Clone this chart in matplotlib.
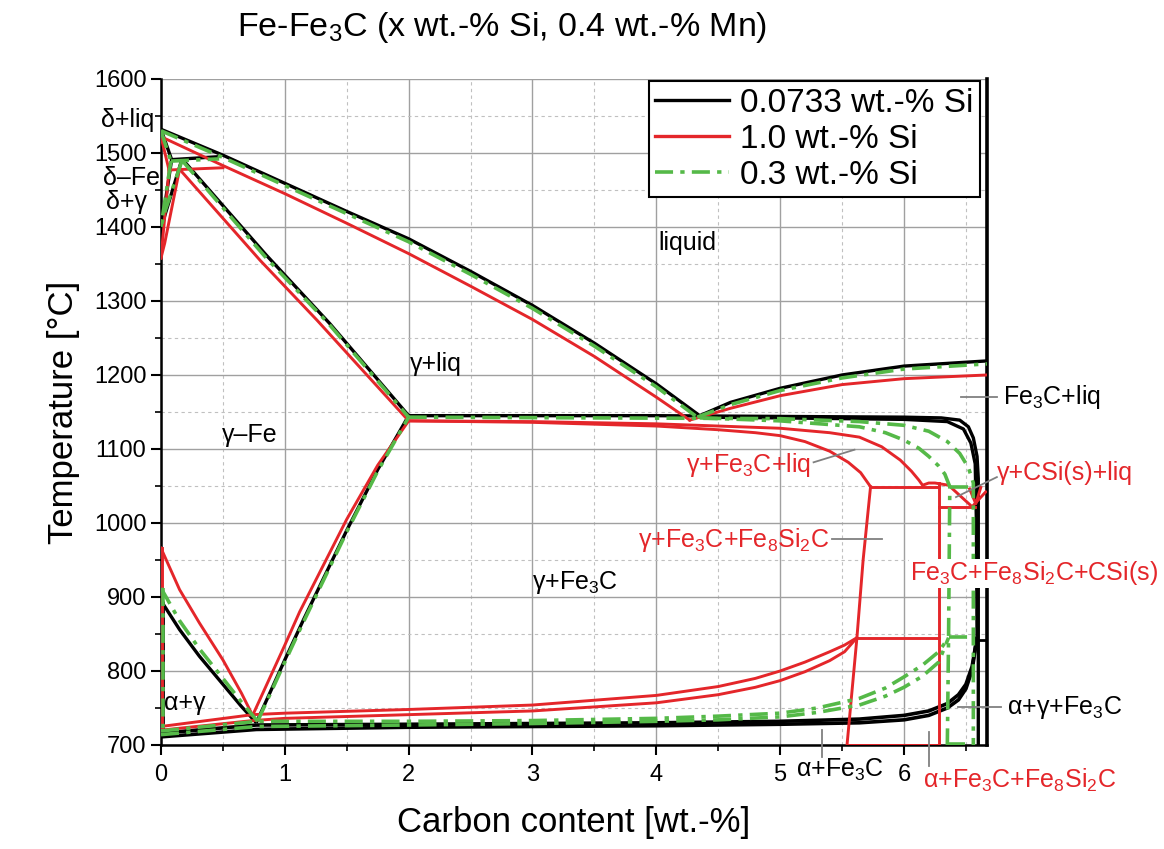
import numpy as np
import matplotlib.pyplot as plt
from matplotlib.ticker import MultipleLocator

plt.rcParams['font.family'] = ['Liberation Sans', 'DejaVu Sans']
plt.rcParams['mathtext.fontset'] = 'custom'
plt.rcParams['mathtext.rm'] = 'Liberation Sans'

RED = '#e4262a'
GREEN = '#55b948'
GRN_LS = (0, (5, 2, 1.2, 2))

# ---- data (x = wt.-% C, T = deg C) ----
# liquidus, Fe rich side
liq_x_k = [0, 0.5, 1.0, 1.5, 2.0, 2.5, 3.0, 3.5, 4.0, 4.35]
liq_t_k = [1532, 1497, 1459, 1421, 1384, 1340, 1294, 1243, 1188, 1145]
liq_x_g = [0, 0.5, 1.0, 1.5, 2.0, 2.5, 3.0, 3.5, 4.0, 4.33]
liq_t_g = [1530, 1494, 1456, 1418, 1380, 1336, 1290, 1239, 1184, 1143]
liq_x_r = [0, 0.5, 1.0, 1.5, 2.0, 2.5, 3.0, 3.5, 4.0, 4.27]
liq_t_r = [1522, 1483, 1445, 1405, 1364, 1320, 1275, 1225, 1170, 1139]

# liquidus, Fe3C side
hyp_x_k = [4.35, 4.6, 5.0, 5.5, 6.0, 6.67]
hyp_t_k = [1145, 1163, 1182, 1200, 1212, 1219]
hyp_x_g = [4.33, 4.6, 5.0, 5.5, 6.0, 6.67]
hyp_t_g = [1143, 1160, 1179, 1196, 1208, 1215]
hyp_x_r = [4.27, 4.6, 5.0, 5.5, 6.0, 6.67]
hyp_t_r = [1139, 1155, 1172, 1187, 1195, 1200]

# delta corner: [liquidus top, delta solidus end, peritectic end, gamma solidus start, delta+gamma bottom]
dl_k = [(0, 1532), (0.086, 1491), (0.47, 1495), (0.17, 1492), (0, 1395)]
dl_g = [(0, 1530), (0.08, 1489), (0.47, 1492), (0.17, 1490), (0, 1400)]
dl_r = [(0, 1522), (0.065, 1477), (0.50, 1480), (0.15, 1478), (0, 1358)]

# gamma solidus
sol_x_k = [0.17, 0.85, 1.36, 2.0]
sol_t_k = [1492, 1362, 1270, 1145]
sol_x_g = [0.17, 0.84, 1.35, 2.0]
sol_t_g = [1490, 1360, 1270, 1143]
sol_x_r = [0.15, 0.80, 1.26, 2.0]
sol_t_r = [1478, 1355, 1274, 1138]

# A3
a3_x_k = [0, 0.15, 0.31, 0.5, 0.65, 0.77]
a3_t_k = [895, 856, 820, 782, 752, 730]
a3_x_g = [0, 0.15, 0.31, 0.5, 0.65, 0.78]
a3_t_g = [912, 868, 830, 790, 758, 732]
a3_x_r = [0, 0.15, 0.31, 0.5, 0.65, 0.74]
a3_t_r = [966, 910, 865, 815, 770, 740]

# Acm
acm_x_k = [0.77, 1.0, 1.15, 1.5, 1.75, 2.0]
acm_t_k = [730, 815, 869, 990, 1072, 1145]
acm_x_g = [0.78, 1.0, 1.15, 1.5, 1.75, 2.0]
acm_t_g = [732, 812, 866, 988, 1070, 1143]
acm_x_r = [0.74, 1.0, 1.12, 1.5, 1.75, 2.0]
acm_t_r = [740, 835, 880, 1005, 1078, 1138]

# lower three-phase band (alpha+gamma+Fe3C)
low_x_k = [0, 0.77, 2, 3, 4, 5, 5.64, 6.0, 6.2, 6.35, 6.44, 6.5, 6.55, 6.59]
low_t_k1 = [716, 727, 728, 729, 730, 732, 735, 740, 746, 756, 768, 782, 806, 846]
low_t_k2 = [711, 721, 724, 725, 726, 728, 730, 734, 740, 750, 761, 776, 801, 846]
low_x_g = [0, 0.78, 2, 3, 4, 4.5, 5, 5.3, 5.64, 5.85, 6.0, 6.15, 6.28, 6.36]
low_t_g1 = [719, 732, 732, 733, 736, 739, 743, 750, 763, 777, 792, 808, 826, 845]
low_t_g2 = [714, 725, 727, 729, 732, 734, 738, 744, 754, 766, 778, 793, 812, 845]
low_x_r = [0, 0.74, 1, 2, 3, 4, 4.5, 4.8, 5.0, 5.2, 5.4, 5.52, 5.62]
low_t_r1 = [725, 741, 743, 748, 754, 767, 779, 790, 800, 812, 826, 835, 845]
low_t_r2 = [720, 733, 736, 741, 746, 757, 768, 778, 787, 799, 814, 826, 845]

# upper three-phase band (gamma+Fe3C+liq)
eut_x_k1 = [2.0, 3, 4, 5, 6, 6.3, 6.45, 6.52, 6.56, 6.59, 6.6, 6.6]
eut_t_k1 = [1145, 1145, 1145, 1144, 1143, 1142, 1139, 1130, 1115, 1090, 1060, 700]
eut_x_k2 = [4.35, 5, 6, 6.35, 6.48, 6.54, 6.575, 6.585, 6.59]
eut_t_k2 = [1143, 1142, 1140, 1137, 1127, 1108, 1080, 1000, 846]
eut_x_g1 = [2.0, 5.0, 5.64, 6.0, 6.2, 6.35, 6.45, 6.52, 6.56, 6.56]
eut_t_g1 = [1143, 1141, 1137, 1132, 1124, 1110, 1094, 1075, 1054, 700]
eut_x_g2 = [4.35, 5.0, 5.64, 5.85, 6.0, 6.12, 6.2, 6.28, 6.33, 6.37, 6.36, 6.35]
eut_t_g2 = [1142, 1138, 1130, 1122, 1112, 1101, 1090, 1077, 1066, 1049, 846, 700]
eut_x_r1 = [2.0, 3, 4, 4.5, 4.8, 5, 5.2, 5.4, 5.55, 5.65, 5.73]
eut_t_r1 = [1138, 1136, 1131, 1126, 1122, 1118, 1110, 1097, 1082, 1068, 1049]
eut_x_r2 = [2.0, 3, 4, 5, 5.4, 5.64, 5.82, 5.97, 6.06, 6.12, 6.15, 6.2, 6.25, 6.36, 6.55, 6.66]
eut_t_r2 = [1138, 1137, 1134, 1128, 1122, 1116, 1103, 1085, 1070, 1058, 1051, 1054, 1054, 1051, 1022, 1042]

# Fe8Si2C fields (1.0 % Si)
fesi_x_slant = [5.73, 5.67, 5.62, 5.54]
fesi_t_slant = [1049, 950, 845, 700]
fesi_x_right = 6.28
fesi_t_iso = [1049, 845, 700]
csi_t_iso = 1022

legend_labels = ['0.0733 wt.-% Si', '1.0 wt.-% Si', '0.3 wt.-% Si']

fig = plt.figure(figsize=(11.64, 8.49), dpi=100)
ax = fig.add_axes([0.1383, 0.1225, 0.7096, 0.7845])


def black(x, y, lw=2.4):
    ax.plot(x, y, color='black', lw=lw, solid_capstyle='butt', zorder=3)


def red(x, y, lw=2.1):
    ax.plot(x, y, color=RED, lw=lw, zorder=4)


def green(x, y, lw=2.6):
    ax.plot(x, y, color=GREEN, lw=lw, ls=GRN_LS, zorder=5)


def delta_corner(pts, fn):
    top, dsol, per, gsol, bot = pts
    fn([top[0], dsol[0]], [top[1], dsol[1]])
    fn([dsol[0], per[0]], [dsol[1], per[1]])
    fn([dsol[0], bot[0]], [dsol[1], bot[1]])
    fn([gsol[0], 0.03, bot[0]], [gsol[1], bot[1] + 20, bot[1]])


# black: 0.0733 % Si
black(liq_x_k, liq_t_k)
black(hyp_x_k, hyp_t_k)
delta_corner(dl_k, black)
black(sol_x_k, sol_t_k)
black(a3_x_k, a3_t_k)
black(acm_x_k, acm_t_k)
black([0.015, 0.015], [a3_t_k[0], low_t_k2[0]], lw=2)
black(low_x_k, low_t_k1, lw=2.6)
black(low_x_k, low_t_k2, lw=2.6)
black(eut_x_k1, eut_t_k1)
black(eut_x_k2, eut_t_k2)
black([6.6, 6.67], [842, 842], lw=2)

# red: 1.0 % Si
red(liq_x_r, liq_t_r)
red(hyp_x_r, hyp_t_r)
delta_corner(dl_r, red)
red(sol_x_r, sol_t_r)
red(a3_x_r, a3_t_r)
red(acm_x_r, acm_t_r)
red([0.005, 0.005], [a3_t_r[0], low_t_r2[0]])
red(low_x_r, low_t_r1)
red(low_x_r, low_t_r2)
red(eut_x_r1, eut_t_r1)
red(eut_x_r2, eut_t_r2)
red(fesi_x_slant, fesi_t_slant)
red([fesi_x_right, fesi_x_right], [1054, 700])
red([fesi_x_slant[0], fesi_x_right], [fesi_t_iso[0]] * 2)
red([fesi_x_slant[2], fesi_x_right], [fesi_t_iso[1]] * 2)
red([fesi_x_slant[3], fesi_x_right], [fesi_t_iso[2]] * 2)
red([fesi_x_right, 6.57], [csi_t_iso] * 2)
red([6.53, 6.58, 6.62], [1046, 1026, 1048])

# green: 0.3 % Si
green(liq_x_g, liq_t_g)
green(hyp_x_g, hyp_t_g)
delta_corner(dl_g, green)
green(sol_x_g, sol_t_g)
green(a3_x_g, a3_t_g)
green(acm_x_g, acm_t_g)
green([0.02, 0.02], [a3_t_g[0], low_t_g2[0]])
green(low_x_g, low_t_g1)
green(low_x_g, low_t_g2)
green(eut_x_g1, eut_t_g1)
green(eut_x_g2, eut_t_g2)
green([6.37, 6.56], [1049, 1049])
green([6.36, 6.56], [846, 846])
green([6.35, 6.56], [701, 701])

# axes styling
ax.set_xlim(0, 6.67)
ax.set_ylim(700, 1600)
ax.xaxis.set_major_locator(MultipleLocator(1))
ax.xaxis.set_minor_locator(MultipleLocator(0.5))
ax.yaxis.set_major_locator(MultipleLocator(100))
ax.yaxis.set_minor_locator(MultipleLocator(50))
ax.grid(which='major', color='#a0a0a0', lw=1.0, zorder=0)
ax.grid(which='minor', color='#c0c0c0', lw=0.8, ls=(0, (3, 3)), zorder=0)
ax.set_axisbelow(True)
ax.tick_params(which='major', length=7, width=1.5, direction='out', labelsize=17)
ax.tick_params(which='minor', length=4.5, width=1.2, direction='out')
ax.tick_params(axis='x', pad=7)
ax.spines['top'].set_visible(False)
for s in ['left', 'bottom']:
    ax.spines[s].set_linewidth(1.8)
ax.spines['right'].set_linewidth(2.6)

ax.set_xlabel('Carbon content [wt.-%]', fontsize=25, labelpad=14)
ax.set_ylabel('Temperature [°C]', fontsize=25, labelpad=10)
fig.text(0.431, 0.968, 'Fe-Fe$_\\mathregular{3}$C (x wt.-% Si, 0.4 wt.-% Mn)',
         ha='center', va='center', fontsize=24.5)

# legend
hk, = ax.plot([], [], color='black', lw=2.4)
hr, = ax.plot([], [], color=RED, lw=2.4)
hg, = ax.plot([], [], color=GREEN, lw=2.6, ls=GRN_LS)
leg = ax.legend([hk, hr, hg], legend_labels, loc='upper right',
                bbox_to_anchor=(0.992, 0.997), fontsize=24, frameon=True,
                fancybox=False, edgecolor='black', framealpha=1,
                handlelength=2.2, handletextpad=0.35, labelspacing=0.15,
                borderpad=0.2, borderaxespad=0)
leg.get_frame().set_linewidth(1.5)
leg.set_zorder(10)

# phase labels
fs = 18
ax.text(-0.27, 1545, 'δ+liq', fontsize=fs, ha='center', va='center')
ax.text(-0.24, 1466, 'δ–Fe', fontsize=fs, ha='center', va='center')
ax.text(-0.28, 1434, 'δ+γ', fontsize=fs, ha='center', va='center')
ax.text(4.25, 1378, 'liquid', fontsize=fs, ha='center', va='center')
ax.text(2.22, 1215, 'γ+liq', fontsize=fs, ha='center', va='center')
ax.text(0.72, 1119, 'γ–Fe', fontsize=fs, ha='center', va='center')
ax.text(3.34, 919, 'γ+Fe$_\\mathregular{3}$C', fontsize=fs, ha='center', va='center')
ax.text(0.19, 757, 'α+γ', fontsize=fs, ha='center', va='center')

gray = '#808080'
# Fe3C+liq
ax.plot([6.46, 6.75], [1170, 1170], color=gray, lw=1.3, clip_on=False, zorder=6)
ax.text(6.80, 1170, 'Fe$_\\mathregular{3}$C+liq', fontsize=fs, va='center')
# gamma+Fe3C+liq
ax.plot([5.27, 5.6], [1082, 1099], color=gray, lw=1.3, zorder=6)
ax.text(5.25, 1078, 'γ+Fe$_\\mathregular{3}$C+liq', fontsize=fs, color=RED,
        ha='right', va='center')
# gamma+CSi(s)+liq
ax.plot([6.42, 6.75], [1035, 1062], color=gray, lw=1.3, clip_on=False, zorder=6)
ax.text(6.75, 1068, 'γ+CSi(s)+liq', fontsize=fs, color=RED, va='center')
# gamma+Fe3C+Fe8Si2C
ax.plot([5.42, 5.82], [978, 978], color=gray, lw=1.3, zorder=6)
ax.text(5.4, 977, 'γ+Fe$_\\mathregular{3}$C+Fe$_\\mathregular{8}$Si$_\\mathregular{2}$C',
        fontsize=fs, color=RED, ha='right', va='center')
# Fe3C+Fe8Si2C+CSi(s)
ax.text(6.05, 932, 'Fe$_\\mathregular{3}$C+Fe$_\\mathregular{8}$Si$_\\mathregular{2}$C+CSi(s)',
        fontsize=fs, color=RED, va='center', zorder=8,
        bbox=dict(facecolor='white', edgecolor='none', pad=0.5))
# alpha+gamma+Fe3C
ax.plot([6.44, 6.78], [752, 752], color=gray, lw=1.3, clip_on=False, zorder=6)
ax.text(6.83, 750, 'α+γ+Fe$_\\mathregular{3}$C', fontsize=fs, va='center')
# alpha+Fe3C
ax.plot([5.34, 5.34], [720, 684], color=gray, lw=1.3, clip_on=False, zorder=6)
ax.text(5.48, 666, 'α+Fe$_\\mathregular{3}$C', fontsize=fs, ha='center', va='center')
# alpha+Fe3C+Fe8Si2C
ax.plot([6.2, 6.2], [717, 672], color=gray, lw=1.3, clip_on=False, zorder=6)
ax.text(6.15, 652, 'α+Fe$_\\mathregular{3}$C+Fe$_\\mathregular{8}$Si$_\\mathregular{2}$C',
        fontsize=fs, color=RED, va='center')

fig.savefig('out.png', dpi=100)
